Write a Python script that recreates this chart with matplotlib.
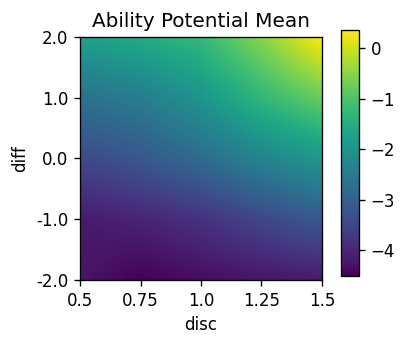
import numpy as np
import matplotlib
matplotlib.use("Agg")
import matplotlib.pyplot as plt

# grid (rows: diff from -2 to 2, cols: disc 0.5 -> 1.5)
disc = [0.5, 0.75, 1.0, 1.25, 1.5]
diff = [-2.0, -1.0, 0.0, 1.0, 2.0]
mean_diff_m2 = [-4.23, -4.52, -4.35, -4.26, -4.18]
mean_diff_m1 = [-4.18, -4.03, -3.84, -3.50, -3.15]
mean_diff_0 = [-3.45, -3.20, -2.81, -2.32, -1.93]
mean_diff_p1 = [-2.71, -2.47, -1.98, -1.30, -0.76]
mean_diff_p2 = [-1.74, -1.52, -1.25, -0.52, 0.36]

ytick_labels = ["-2.0", "-1.0", "0.0", "1.0", "2.0"]
xticks = [0.5, 0.75, 1.0, 1.25, 1.5]
xtick_labels = ["0.5", "0.75", "1.0", "1.25", "1.5"]

grid = np.array([mean_diff_m2, mean_diff_m1, mean_diff_0, mean_diff_p1, mean_diff_p2])

fig = plt.figure(figsize=(407 / 120, 343 / 120), dpi=120)
ax = fig.add_axes([0.197, 0.184, 0.594, 0.708])
cax = fig.add_axes([0.838, 0.195, 0.044, 0.717])

# put each value at its grid point (pixel centres), then crop to the grid
dx = (disc[1] - disc[0]) / 2
dy = (diff[1] - diff[0]) / 2
im = ax.imshow(grid, origin="lower", cmap="viridis", interpolation="bilinear",
               extent=[disc[0] - dx, disc[-1] + dx, diff[0] - dy, diff[-1] + dy],
               aspect="auto", vmin=grid.min(), vmax=grid.max())
ax.set_xlim(disc[0], disc[-1])
ax.set_ylim(diff[0], diff[-1])
ax.set_xticks(xticks)
ax.set_xticklabels(xtick_labels)
ax.set_yticks(diff)
ax.set_yticklabels(ytick_labels)
ax.set_xlabel("disc")
ax.set_ylabel("diff")
ax.set_title("Ability Potential Mean")

fig.colorbar(im, cax=cax)

fig.savefig("out.png", dpi=120)
